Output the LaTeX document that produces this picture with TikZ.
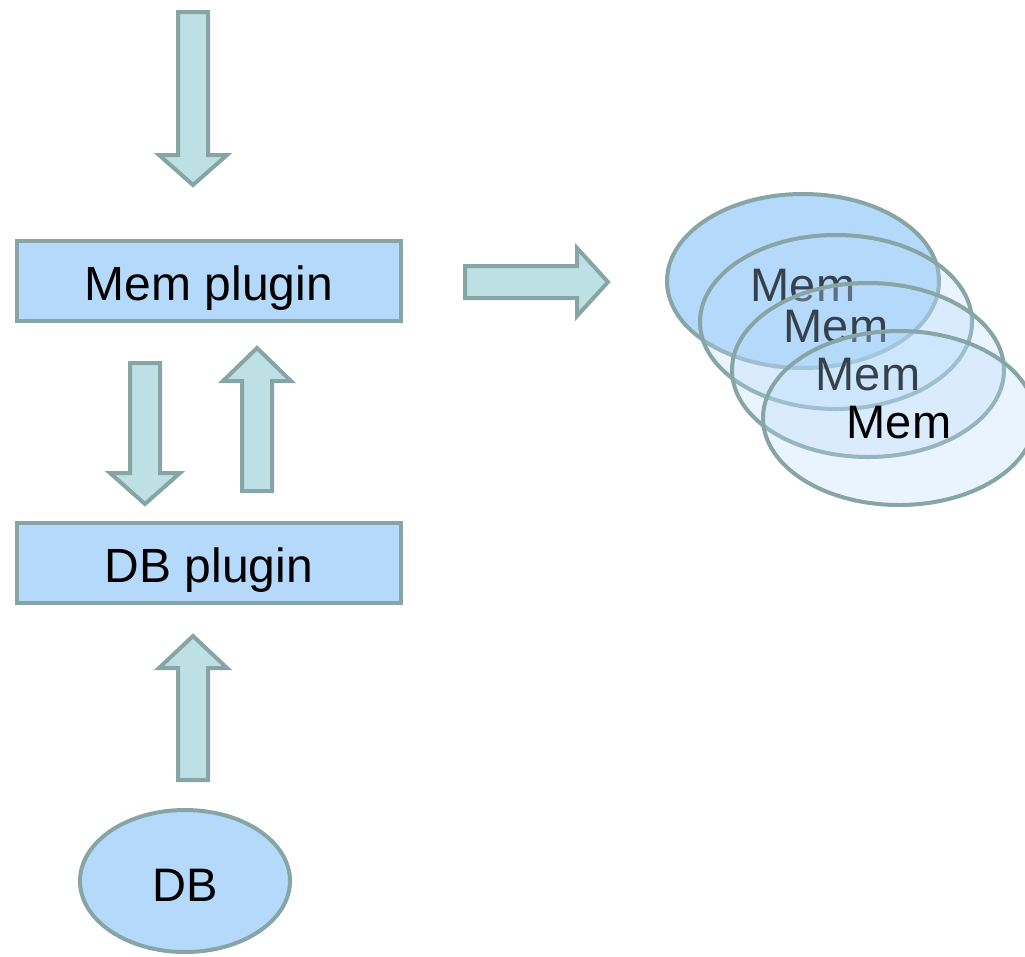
\documentclass[tikz,border=0pt]{standalone}
\usepackage{fontspec}
\setmainfont{Liberation Sans}
\usetikzlibrary{shapes.geometric}
\definecolor{boxblue}{RGB}{181,217,251}
\definecolor{edgegray}{RGB}{136,165,165}
\definecolor{arrowcyan}{RGB}{188,224,227}

\begin{document}
\begin{tikzpicture}[x=1pt,y=-1pt,
  plugin/.style={draw=edgegray,fill=boxblue,line width=4pt,minimum width=384pt,minimum height=80pt,inner sep=0pt,text height=38pt,text depth=0pt,font=\fontsize{48}{56}\selectfont},
  store/.style={ellipse,draw=edgegray,fill=boxblue,line width=4pt,inner sep=0pt,text height=40pt,text depth=0pt,font=\fontsize{47}{56}\selectfont},
  memcopy/.style={store,minimum width=272pt,minimum height=174pt},
  blockarrow/.style={draw=edgegray,fill=arrowcyan,line width=4pt,line join=miter}]
\useasboundingbox (0,0) rectangle (1025,956);
% plugins and database
\node at (209,281) [plugin] (memplugin) {Mem plugin};
\node at (209,563) [plugin] (dbplugin) {DB plugin};
\node at (185,881) [store,minimum width=210pt,minimum height=142pt] (db) {DB};
% memory copies
\node at (803,281) [memcopy] (mem1) {Mem};
\node at (836,322) [memcopy,fill opacity=0.3,text opacity=1] (mem2) {Mem};
\node at (868,370) [memcopy,fill opacity=0.3,text opacity=1] (mem3) {Mem};
\node at (899,418) [memcopy,fill opacity=0.3,text opacity=1] (mem4) {Mem};
% block arrows
\draw[blockarrow] (178,12)--(208,12)--(208,155)--(227,155)--(193,185)--(159,155)--(178,155)--cycle;
\draw[blockarrow] (465,266)--(465,298)--(577,298)--(577,316)--(608,282)--(577,248)--(577,266)--cycle;
\draw[blockarrow] (130,363)--(160,363)--(160,473)--(180,473)--(145,504)--(110,473)--(130,473)--cycle;
\draw[blockarrow] (242,491)--(272,491)--(272,381)--(291,381)--(257,348)--(223,381)--(242,381)--cycle;
\draw[blockarrow] (178,780)--(208,780)--(208,668)--(227,668)--(193,636)--(159,668)--(178,668)--cycle;
\end{tikzpicture}
\end{document}
